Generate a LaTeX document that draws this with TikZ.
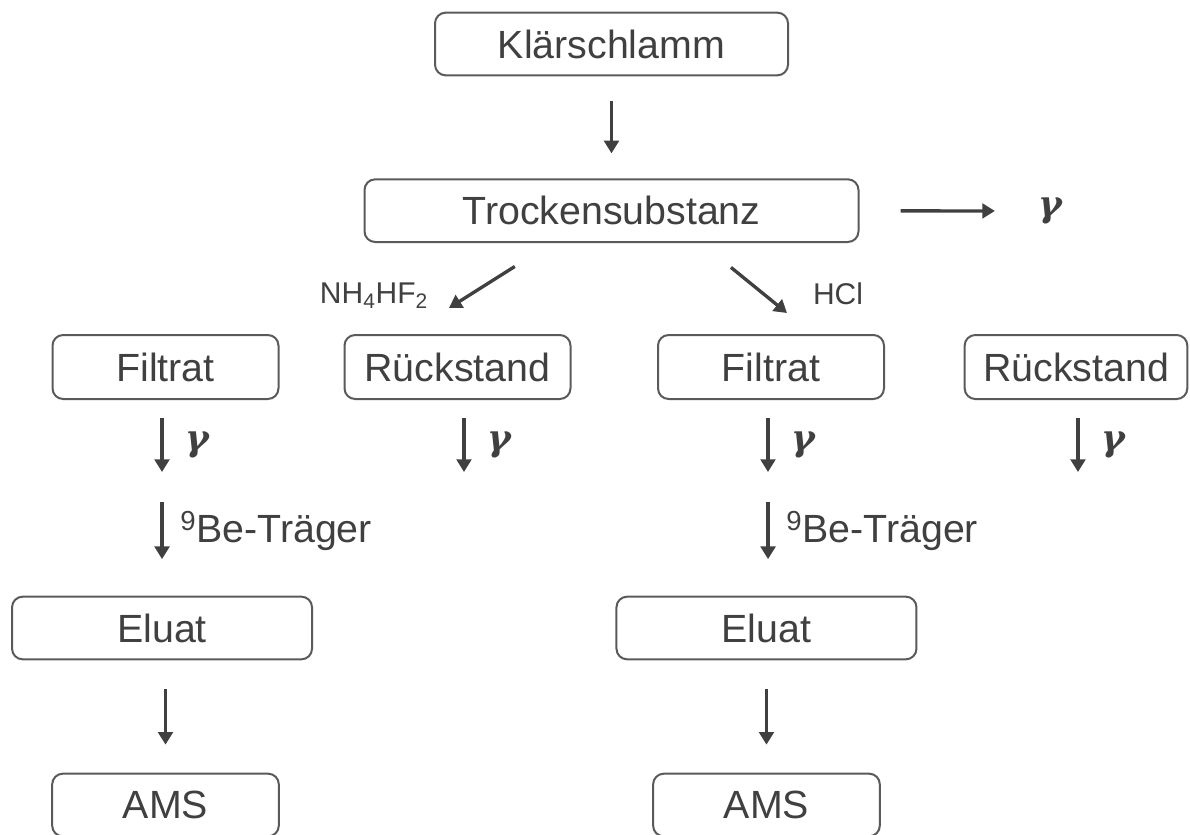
\documentclass[tikz,border=0pt]{standalone}
\usepackage{fontspec}
\setmainfont{Liberation Sans}
\newfontfamily\gammafont{DejaVu Serif}
\usetikzlibrary{arrows.meta}
\definecolor{boxline}{HTML}{5A5A5A}
\definecolor{txt}{HTML}{404040}

\begin{document}
\begin{tikzpicture}[x=0.75pt, y=-0.75pt, thick,
    box/.style = {draw=boxline, line width=1.5pt, rounded corners=8pt, fill=white, text=txt, font=\fontsize{29.5}{34}\selectfont, minimum height=47pt, inner sep=0pt},
    arr/.style = {-{Triangle[length=9.5pt,width=11pt]}, line width=2.5pt, draw=txt},
    lbl/.style = {text=txt, font=\fontsize{22.5}{26}\selectfont, inner sep=0pt},
    gam/.style = {text=txt, font=\gammafont\bfseries\itshape\fontsize{27}{30}\selectfont, inner sep=0pt}]
    \useasboundingbox (0,0) rectangle (1190,835);
    \clip (0,0) rectangle (1190,835);

    % Klaerschlamm -> Trockensubstanz
    \node[box, minimum width=264.75pt] (k) at (611.5,44) {Klärschlamm};
    \node[box, minimum width=370.5pt, below of=k, node distance=125pt] (t) {Trockensubstanz};
    \node[gam] (g0) at (1050,211) {γ};
    \node[lbl] (n1) at (374,296) {NH\textsubscript{4}HF\textsubscript{2}};
    \node[lbl] (n2) at (838,294) {HCl};
    \coordinate (d1) at (449,308);
    \coordinate (d2) at (787,313);

    % second row
    \node[box, minimum width=169.5pt, minimum height=48pt] (f1) at (165.5,367) {Filtrat};
    \node[box, minimum width=169.5pt, minimum height=48pt] (r1) at (457.5,367) {Rückstand};
    \node[box, minimum width=169.5pt, minimum height=48pt] (f2) at (771,367) {Filtrat};
    \node[box, minimum width=167pt, minimum height=48pt] (r2) at (1076,367) {Rückstand};

    \node[box, minimum width=225pt, below of=f1, node distance=195.75pt, xshift=-2.6pt] (e1) {Eluat};
    \node[box, minimum width=225pt, below of=f2, node distance=195.75pt, xshift=-3.4pt] (e2) {Eluat};
    \node[box, minimum width=170pt, below of=e1, node distance=132.75pt, xshift=2.6pt] (a1) {AMS};
    \node[box, minimum width=170pt, below of=e2, node distance=132.75pt] (a2) {AMS};

    \draw[arr, shorten <=18.75pt, shorten >=18.75pt] (k) -- (t);
    \draw[arr, shorten <=30.75pt, shorten >=32pt] (t) -- (g0);
    \draw[arr, shorten <=33pt] ([xshift=-44.6pt]t.south) -- (d1);
    \draw[arr, shorten <=29pt] ([xshift=67.1pt]t.south) -- (d2);

    \foreach \n/\dx in {f1/-3.5, r1/6.5, f2/-3, r2/2} {
        \draw[arr] ([xshift=\dx*0.75pt, yshift=-13.5pt]\n.south) -- ++(0,54) node[gam, midway, right=16pt] {γ};
    }
    \foreach \n/\dx in {e1/0, e2/1.2} {
        \draw[arr] ([xshift=\dx pt, yshift=70pt]\n.north) -- ([xshift=\dx pt, yshift=27.4pt]\n.north) node[box, draw=none, fill=none, minimum height=0pt, midway, right=13pt] {\textsuperscript{9}Be-Träger};
    }
    \draw[arr, shorten <=21.75pt, shorten >=21pt] (e1.south -| a1) -- (a1);
    \draw[arr, shorten <=21.75pt, shorten >=21pt] (e2) -- (a2);
\end{tikzpicture}
\end{document}
